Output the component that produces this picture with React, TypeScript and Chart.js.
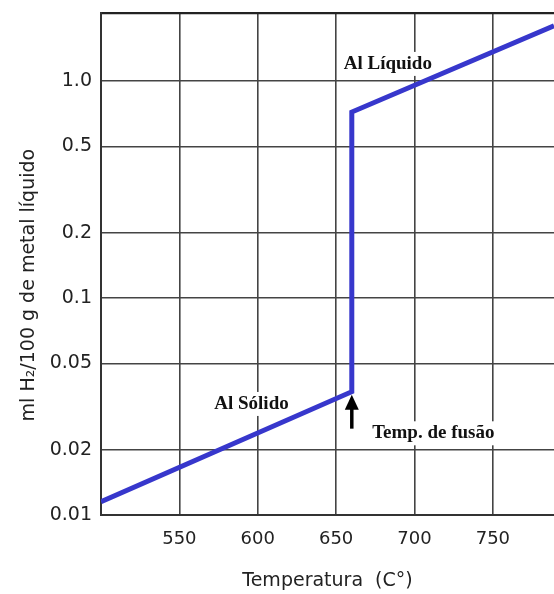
import { useEffect, useRef } from "react";
import { Chart, registerables } from "chart.js";

Chart.register(...registerables);

// Data
const temperatures = [500, 660, 660, 789];
const hydrogen = [0.0115, 0.037, 0.72, 1.8];

const xTicks = [550, 600, 650, 700, 750];
const yTicks = [0.01, 0.02, 0.05, 0.1, 0.2, 0.5, 1.0];
const yTickLabels = ["0.01", "0.02", "0.05", "0.1", "0.2", "0.5", "1.0"];

const xMin = 500;
const xMax = 789;
const yMin = 0.01;
const yMax = 2.06;

const noteTexts = ["Al Líquido", "Al Sólido", "Temp. de fusão"];
const noteX = [683, 596, 712];
const noteY = [1.2, 0.0325, 0.0238];

const arrowX = 660;
const arrowTipY = 0.0358;
const arrowTailY = 0.025;

const annotationPlugin = {
  id: "notes",
  beforeDatasetsDraw(chart: any) {
    const { ctx, scales } = chart;
    const xs = scales.x;
    const ys = scales.y;
    ctx.save();
    ctx.font = "bold 19px 'Liberation Serif', 'Times New Roman', serif";
    ctx.textAlign = "center";
    ctx.textBaseline = "middle";
    for (let i = 0; i < noteTexts.length; i++) {
      const px = xs.getPixelForValue(noteX[i]);
      const py = ys.getPixelForValue(noteY[i]);
      const w = ctx.measureText(noteTexts[i]).width;
      ctx.fillStyle = "#ffffff";
      ctx.fillRect(px - w / 2 - 3, py - 12, w + 6, 24);
      ctx.fillStyle = "#111111";
      ctx.fillText(noteTexts[i], px, py);
    }
    // arrow
    const ax = xs.getPixelForValue(arrowX);
    const tip = ys.getPixelForValue(arrowTipY);
    const tail = ys.getPixelForValue(arrowTailY);
    ctx.strokeStyle = "#000";
    ctx.fillStyle = "#000";
    ctx.lineWidth = 3.5;
    ctx.beginPath();
    ctx.moveTo(ax, tail);
    ctx.lineTo(ax, tip + 10);
    ctx.stroke();
    ctx.beginPath();
    ctx.moveTo(ax, tip);
    ctx.lineTo(ax - 7, tip + 15);
    ctx.lineTo(ax + 7, tip + 15);
    ctx.closePath();
    ctx.fill();
    ctx.restore();
  },
};

export default function App() {
  const ref = useRef<HTMLCanvasElement | null>(null);

  useEffect(() => {
    if (!ref.current) return;
    const points = temperatures.map((t, i) => ({ x: t, y: hydrogen[i] }));
    const chart = new Chart(ref.current, {
      type: "scatter",
      data: {
        datasets: [
          {
            data: points,
            showLine: true,
            borderColor: "#3737cc",
            borderWidth: 5,
            pointRadius: 0,
            fill: false,
            tension: 0,
            borderJoinStyle: "miter",
          } as any,
        ],
      },
      options: {
        animation: false,
        responsive: false,
        layout: { padding: { top: 13, right: 0, left: 0, bottom: 0 } },
        plugins: {
          legend: { display: false },
          tooltip: { enabled: false },
        },
        scales: {
          x: {
            type: "linear",
            min: xMin,
            max: xMax,
            afterBuildTicks: (scale: any) => {
              scale.ticks = xTicks.map((v) => ({ value: v }));
            },
            afterFit: (scale: any) => {
              scale.height = 79;
              scale.paddingLeft = 0;
              scale.paddingRight = 0;
            },
            ticks: {
              padding: 14,
              color: "#222",
              font: { family: "'DejaVu Sans', sans-serif", size: 18 },
              callback: (v: any) => String(v),
            },
            grid: {
              color: "#444",
              lineWidth: 1.6,
              drawTicks: false,
            },
            border: { display: true, color: "#333", width: 2 },
            title: {
              display: true,
              text: "Temperatura  (C°)",
              color: "#222",
              font: { family: "'DejaVu Sans', sans-serif", size: 19 },
              padding: { top: 0, bottom: 2 },
            },
          },
          y: {
            type: "logarithmic",
            min: yMin,
            max: yMax,
            afterBuildTicks: (scale: any) => {
              scale.ticks = [...yTicks, yMax].map((v) => ({ value: v }));
            },
            afterFit: (scale: any) => {
              scale.width = 101;
              scale.paddingTop = 0;
              scale.paddingBottom = 0;
            },
            ticks: {
              padding: 9,
              color: "#222",
              font: { family: "'DejaVu Sans', sans-serif", size: 19 },
              autoSkip: false,
              callback: (v: any) => {
                const idx = yTicks.indexOf(Number(v));
                return idx >= 0 ? yTickLabels[idx] : "";
              },
            },
            grid: {
              color: (c: any) => (c.tick && c.tick.value === yMax ? "#222" : "#444"),
              lineWidth: (c: any) => (c.tick && c.tick.value === yMax ? 2.2 : 1.6),
              drawTicks: false,
            },
            border: { display: true, color: "#333", width: 2 },
            title: {
              display: true,
              text: "ml H₂/100 g de metal líquido       ",
              color: "#222",
              font: { family: "'DejaVu Sans', sans-serif", size: 19 },
              padding: { top: 18, bottom: 0 },
            },
          },
        },
      },
      plugins: [annotationPlugin],
    });
    return () => chart.destroy();
  }, []);

  return (
    <div style={{ position: "absolute", left: 0, top: 0, width: 554, height: 594, background: "#fff" }}>
      <canvas ref={ref} width={554} height={594} />
    </div>
  );
}
